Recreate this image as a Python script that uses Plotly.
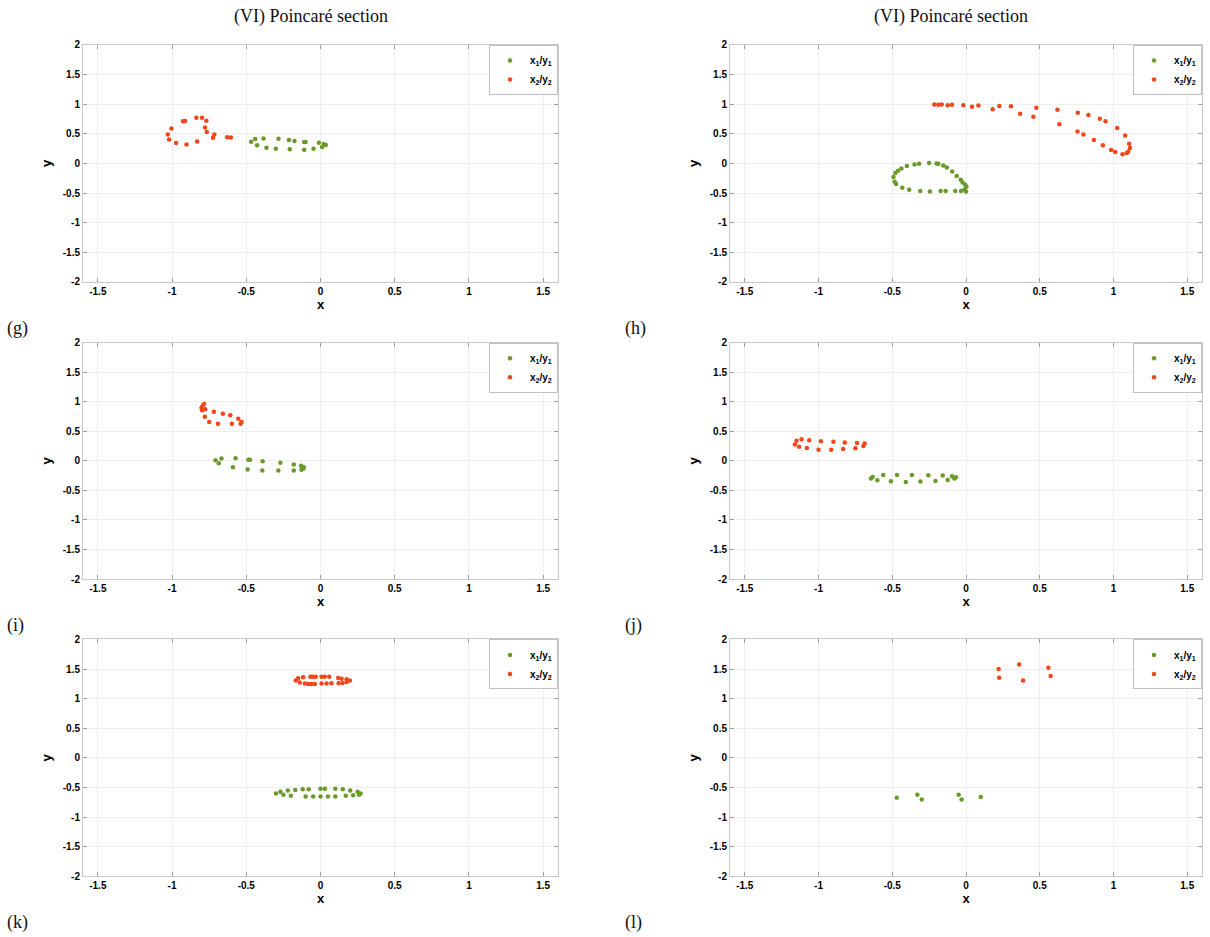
import plotly.graph_objects as go

# ---- Poincaré section points, panels (g)-(l) ----
# Each panel: oscillator 1 (x1/y1) and oscillator 2 (x2/y2)

G_X1 = [-0.467, -0.440, -0.427, -0.384, -0.364, -0.301, -0.283, -0.213, -0.207, -0.175,
        -0.110, -0.101, -0.110, -0.047, -0.011, 0.011, 0.022, 0.036]
G_Y1 = [0.367, 0.411, 0.306, 0.422, 0.267, 0.250, 0.417, 0.394, 0.239, 0.378,
        0.361, 0.361, 0.233, 0.250, 0.350, 0.278, 0.328, 0.311]
G_X2 = [-0.836, -0.798, -0.769, -0.778, -0.766, -0.715, -0.724, -0.629, -0.604, -0.926,
        -1.004, -1.029, -1.020, -0.973, -0.903, -0.831, -0.912]
G_Y2 = [0.772, 0.772, 0.722, 0.606, 0.533, 0.489, 0.433, 0.444, 0.439, 0.711,
        0.589, 0.489, 0.406, 0.344, 0.322, 0.372, 0.716]

H_X1 = [-0.250, -0.200, -0.188, -0.154, -0.130, -0.094, -0.063, -0.036, -0.023, -0.005,
        0.003, -0.010, 0.000, -0.034, -0.073, -0.138, -0.172, -0.245, -0.310, -0.385,
        -0.432, -0.474, -0.484, -0.492, -0.479, -0.461, -0.438, -0.401, -0.349, -0.318]
H_Y1 = [0.006, 0.000, -0.006, -0.034, -0.067, -0.135, -0.213, -0.275, -0.320, -0.360,
        -0.393, -0.438, -0.472, -0.466, -0.466, -0.466, -0.466, -0.472, -0.466, -0.444,
        -0.410, -0.348, -0.309, -0.230, -0.163, -0.124, -0.084, -0.045, -0.017, -0.006]
H_X2 = [-0.215, -0.188, -0.165, -0.124, -0.095, -0.018, 0.041, 0.084, 0.181, 0.226,
        0.305, 0.367, 0.457, 0.477, 0.620, 0.633, 0.758, 0.756, 0.796, 0.830,
        0.867, 0.907, 0.928, 0.946, 0.984, 1.011, 1.025, 1.061, 1.079, 1.090,
        1.100, 1.106, 1.111]
H_Y2 = [0.994, 0.989, 0.994, 0.983, 0.989, 0.983, 0.956, 0.978, 0.917, 0.972,
        0.967, 0.839, 0.789, 0.939, 0.906, 0.661, 0.856, 0.539, 0.489, 0.817,
        0.394, 0.756, 0.306, 0.711, 0.228, 0.194, 0.600, 0.156, 0.472, 0.178,
        0.200, 0.333, 0.261]

I_X1 = [-0.707, -0.685, -0.667, -0.590, -0.572, -0.491, -0.486, -0.475, -0.392, -0.390,
        -0.284, -0.270, -0.180, -0.180, -0.131, -0.113, -0.128, -0.115]
I_Y1 = [0.011, -0.039, 0.039, -0.107, 0.045, -0.146, 0.017, 0.017, -0.163, -0.006,
        -0.163, -0.034, -0.163, -0.062, -0.084, -0.107, -0.152, -0.130]
I_X2 = [-0.793, -0.784, -0.802, -0.797, -0.777, -0.779, -0.750, -0.718, -0.691, -0.658,
        -0.608, -0.597, -0.554, -0.532, -0.538]
I_Y2 = [0.938, 0.961, 0.899, 0.854, 0.871, 0.747, 0.657, 0.831, 0.629, 0.798,
        0.770, 0.629, 0.713, 0.657, 0.629]

J_X1 = [-0.644, -0.633, -0.601, -0.561, -0.509, -0.468, -0.408, -0.367, -0.309, -0.255,
        -0.207, -0.158, -0.124, -0.095, -0.079, -0.068]
J_Y1 = [-0.300, -0.272, -0.328, -0.239, -0.344, -0.239, -0.356, -0.239, -0.350, -0.244,
        -0.339, -0.250, -0.322, -0.261, -0.300, -0.278]
J_X2 = [-1.160, -1.149, -1.131, -1.115, -1.079, -1.063, -1.000, -0.984, -0.914, -0.899,
        -0.833, -0.822, -0.750, -0.739, -0.696, -0.687]
J_Y2 = [0.278, 0.339, 0.239, 0.367, 0.217, 0.350, 0.189, 0.333, 0.189, 0.322,
        0.200, 0.311, 0.211, 0.300, 0.250, 0.294]

K_X1 = [-0.300, -0.270, -0.250, -0.220, -0.200, -0.170, -0.120, -0.100, -0.080, -0.050,
        0.000, 0.030, 0.000, 0.050, 0.100, 0.100, 0.150, 0.170, 0.200, 0.220,
        0.250, 0.270, 0.260]
K_Y1 = [-0.600, -0.570, -0.620, -0.550, -0.640, -0.540, -0.530, -0.650, -0.530, -0.650,
        -0.520, -0.520, -0.650, -0.650, -0.520, -0.650, -0.530, -0.640, -0.550, -0.630,
        -0.570, -0.600, -0.620]
K_X2 = [-0.167, -0.151, -0.140, -0.117, -0.106, -0.068, -0.050, -0.032, 0.007, 0.029,
        0.059, -0.083, -0.061, -0.038, 0.007, 0.041, 0.074, 0.119, 0.142, 0.176,
        0.198, 0.176, 0.149, 0.122]
K_Y2 = [1.306, 1.344, 1.272, 1.361, 1.256, 1.372, 1.372, 1.372, 1.372, 1.372,
        1.372, 1.250, 1.250, 1.250, 1.256, 1.256, 1.261, 1.350, 1.339, 1.328,
        1.306, 1.283, 1.267, 1.261]

L_X1 = [-0.470, -0.330, -0.300, -0.050, -0.030, 0.100]
L_Y1 = [-0.670, -0.620, -0.700, -0.620, -0.700, -0.660]
L_X2 = [0.221, 0.225, 0.360, 0.387, 0.559, 0.574]
L_Y2 = [1.500, 1.354, 1.579, 1.309, 1.522, 1.382]

PANEL_LABELS = ["(g)", "(h)", "(i)", "(j)", "(k)", "(l)"]
TITLE = "(VI) Poincaré section"
SERIES_NAMES = ["x<sub>1</sub>/y<sub>1</sub>", "x<sub>2</sub>/y<sub>2</sub>"]

X_TICKS = [-1.5, -1, -0.5, 0, 0.5, 1, 1.5]
X_TICK_TEXT = ["-1.5", "-1", "-0.5", "0", "0.5", "1", "1.5"]
Y_TICKS = [-2, -1.5, -1, -0.5, 0, 0.5, 1, 1.5, 2]
Y_TICK_TEXT = ["-2", "-1.5", "-1", "-0.5", "0", "0.5", "1", "1.5", "2"]

PANELS = [
    (G_X1, G_Y1, G_X2, G_Y2),
    (H_X1, H_Y1, H_X2, H_Y2),
    (I_X1, I_Y1, I_X2, I_Y2),
    (J_X1, J_Y1, J_X2, J_Y2),
    (K_X1, K_Y1, K_X2, K_Y2),
    (L_X1, L_Y1, L_X2, L_Y2),
]

GREEN = "#6a9a2a"
RED = "#f0461a"

W, H = 1210, 937
# plot-area pixel boxes: columns (left, right), rows (top, bottom)
COLS = [(83, 558), (730, 1202)]
ROWS = [(39.5, 279.5), (341, 580.5), (641.7, 881.7)]

SANS = "Liberation Sans, Arial, sans-serif"
SERIF = "Liberation Serif, Times New Roman, serif"

fig = go.Figure()
annotations = []

for i, (x1, y1, x2, y2) in enumerate(PANELS):
    r, c = divmod(i, 2)
    n = i + 1
    xa = "x" if n == 1 else f"x{n}"
    ya = "y" if n == 1 else f"y{n}"
    lg = "legend" if n == 1 else f"legend{n}"
    xl, xr = COLS[c]
    yt, yb = ROWS[r]
    dom_x = [xl / W, xr / W]
    dom_y = [1 - yb / H, 1 - yt / H]

    for xs, ys, col, name in ((x1, y1, GREEN, SERIES_NAMES[0]), (x2, y2, RED, SERIES_NAMES[1])):
        fig.add_trace(go.Scatter(
            x=xs, y=ys, mode="markers", name=name,
            marker=dict(color=col, size=4.5, line=dict(width=0)),
            xaxis=xa, yaxis=ya, legend=lg,
        ))

    axis_common = dict(
        showline=True, linecolor="#c8c8c8", linewidth=1, mirror="ticks",
        ticks="inside", ticklen=4, tickcolor="#a0a0a0", tickwidth=1,
        showgrid=True, gridcolor="#efefef", gridwidth=1, zeroline=False,
        tickfont=dict(family=SANS, size=10, color="#000", weight="bold"),
        title_font=dict(family=SANS, size=13, color="#000", weight="bold"),
    )
    fig.layout[f"xaxis{'' if n == 1 else n}"] = dict(
        axis_common, domain=dom_x, range=[-1.6, 1.6], anchor=ya,
        tickvals=X_TICKS, ticktext=X_TICK_TEXT,
        title=dict(text="x", standoff=2),
    )
    fig.layout[f"yaxis{'' if n == 1 else n}"] = dict(
        axis_common, domain=dom_y, range=[-2, 2], anchor=xa,
        tickvals=Y_TICKS, ticktext=Y_TICK_TEXT,
        title=dict(text="y", standoff=8),
    )
    fig.layout[lg] = dict(
        x=dom_x[1], y=dom_y[1], xanchor="right", yanchor="top",
        bgcolor="white", bordercolor="#c0c0c0", borderwidth=1,
        font=dict(family=SANS, size=10, color="#000", weight="bold"),
        itemwidth=30, tracegroupgap=0, itemsizing="trace",
    )

    annotations.append(dict(
        text=PANEL_LABELS[i], xref="paper", yref="paper",
        x=(5 if c == 0 else 623) / W, y=1 - (yb + 47) / H,
        xanchor="left", yanchor="middle", showarrow=False,
        font=dict(family=SERIF, size=18, color="#111"),
    ))

for cx in (311, 951):
    annotations.append(dict(
        text=TITLE, xref="paper", yref="paper", x=cx / W, y=1 - 11 / H,
        xanchor="center", yanchor="middle", showarrow=False,
        font=dict(family=SERIF, size=18, color="#111"),
    ))

fig.update_layout(
    width=W, height=H, margin=dict(l=0, r=0, t=0, b=0),
    paper_bgcolor="white", plot_bgcolor="white",
    annotations=annotations,
)

fig.write_html("out.html")
